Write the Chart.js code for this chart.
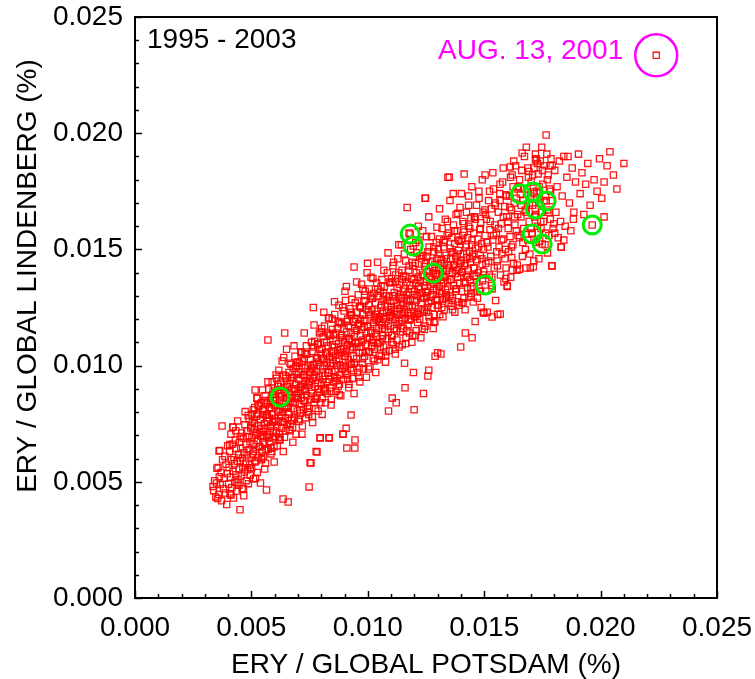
<!DOCTYPE html>
<html lang="en">
<head>
  <meta charset="UTF-8">
  <title>ERY Lindenberg vs Potsdam</title>
  <script src="https://cdn.jsdelivr.net/npm/chart.js@4.4.1/dist/chart.umd.min.js"></script>
  <style>
    html, body { margin: 0; padding: 0; background: #fff; }
    canvas { display: block; }
  </style>
</head>
<body>
  <canvas id="myChart" width="755" height="679"></canvas>
  <script>
    // daily ratios (%): [potsdam, lindenberg]
    const lowerCloud = [
      [0.00335,0.00480],[0.00338,0.00462],[0.00342,0.00505],[0.00347,0.00435],[0.00350,0.00495],[0.00352,0.00558],[0.00355,0.00428],[0.00357,0.00562],
      [0.00360,0.00445],[0.00362,0.00522],[0.00364,0.00635],[0.00366,0.00488],[0.00370,0.00540],[0.00372,0.00418],[0.00374,0.00740],[0.00376,0.00595],
      [0.00380,0.00470],[0.00383,0.00515],[0.00386,0.00610],[0.00388,0.00452],[0.00391,0.00576],[0.00394,0.00402],[0.00396,0.00535],[0.00398,0.00655],
      [0.00402,0.00490],[0.00404,0.00562],[0.00406,0.00630],[0.00408,0.00448],[0.00410,0.00520],[0.00412,0.00705],[0.00414,0.00595],[0.00416,0.00475],
      [0.00418,0.00662],[0.00420,0.00735],[0.00421,0.00545],[0.00423,0.00430],[0.00425,0.00605],[0.00427,0.00578],[0.00429,0.00498],[0.00431,0.00680],
      [0.00433,0.00530],[0.00435,0.00642],[0.00437,0.00460],[0.00439,0.00588],[0.00441,0.00762],[0.00443,0.00510],[0.00445,0.00618],[0.00446,0.00485],
      [0.00448,0.00555],[0.00449,0.00670],
      [0.00451,0.00380],[0.00452,0.00590],[0.00454,0.00645],[0.00456,0.00525],[0.00458,0.00710],[0.00460,0.00470],[0.00461,0.00602],[0.00463,0.00560],
      [0.00465,0.00688],[0.00467,0.00440],[0.00468,0.00625],[0.00470,0.00542],[0.00472,0.00745],[0.00473,0.00802],[0.00475,0.00580],[0.00477,0.00660],
      [0.00478,0.00505],[0.00480,0.00720],[0.00482,0.00615],[0.00484,0.00552],[0.00485,0.00695],[0.00487,0.00492],[0.00489,0.00638],[0.00490,0.00770],
      [0.00492,0.00572],[0.00494,0.00672],[0.00495,0.00528],[0.00497,0.00732],[0.00499,0.00605],
      [0.00501,0.00560],[0.00502,0.00690],[0.00504,0.00755],[0.00506,0.00620],[0.00508,0.00810],[0.00509,0.00512],[0.00511,0.00662],[0.00513,0.00725],
      [0.00515,0.00585],[0.00516,0.00895],[0.00518,0.00700],[0.00520,0.00640],[0.00522,0.00782],[0.00524,0.00860],[0.00525,0.00540],[0.00527,0.00678],
      [0.00529,0.00740],[0.00530,0.00605],[0.00532,0.00825],[0.00534,0.00712],[0.00536,0.00652],[0.00538,0.00768],[0.00539,0.00495],[0.00541,0.00695],
      [0.00543,0.00840],[0.00545,0.00730],[0.00546,0.00630],[0.00548,0.00790],[0.00549,0.00670],
      [0.00551,0.00715],[0.00552,0.00610],[0.00554,0.00805],[0.00556,0.00750],[0.00557,0.00662],[0.00559,0.00870],[0.00561,0.00580],[0.00562,0.00728],
      [0.00564,0.00788],[0.00565,0.00465],[0.00566,0.00695],[0.00568,0.00835],[0.00570,0.00760],[0.00571,0.01110],[0.00572,0.00640],[0.00574,0.00898],
      [0.00576,0.00705],[0.00577,0.00775],[0.00579,0.00672],[0.00581,0.00850],[0.00582,0.00738],[0.00584,0.00620],[0.00586,0.00815],[0.00587,0.00792],
      [0.00589,0.00930],[0.00590,0.00688],[0.00592,0.00755],[0.00594,0.00862],[0.00595,0.00720],[0.00597,0.00650],[0.00599,0.00828]
    ];
    const middleCloud = [
      [0.00601,0.00770],[0.00602,0.00882],[0.00604,0.00695],[0.00606,0.00830],[0.00608,0.00945],[0.00609,0.00740],[0.00611,0.00655],[0.00613,0.00805],
      [0.00614,0.00895],[0.00616,0.00762],[0.00618,0.00980],[0.00619,0.00710],[0.00621,0.00848],[0.00622,0.00680],[0.00624,0.00812],[0.00626,0.00925],
      [0.00627,0.00785],[0.00629,0.00730],[0.00631,0.00870],[0.00632,0.01020],[0.00634,0.00800],[0.00636,0.00426],[0.00637,0.00755],[0.00639,0.00905],
      [0.00640,0.00838],[0.00642,0.00692],[0.00643,0.01140],[0.00644,0.00885],[0.00646,0.00775],[0.00647,0.00955],[0.00649,0.00820],
      [0.00651,0.01070],[0.00652,0.00860],[0.00654,0.00745],[0.00656,0.00910],[0.00658,0.00413],[0.00659,0.00825],[0.00661,0.00970],[0.00662,0.00790],
      [0.00664,0.00878],[0.00666,0.00720],[0.00667,0.00935],[0.00669,0.00845],[0.00670,0.01005],[0.00672,0.00765],[0.00674,0.00900],[0.00675,0.00862],
      [0.00677,0.00735],[0.00679,0.00988],[0.00680,0.00815],[0.00682,0.00948],[0.00684,0.00890],[0.00685,0.00778],[0.00687,0.01040],[0.00688,0.00840],
      [0.00690,0.00920],[0.00692,0.00705],[0.00693,0.00870],[0.00695,0.00962],[0.00697,0.00805],[0.00699,0.01015],
      [0.00701,0.00880],[0.00703,0.00940],[0.00704,0.00760],[0.00706,0.01010],[0.00708,0.00835],[0.00709,0.00905],[0.00711,0.00795],[0.00713,0.00975],
      [0.00714,0.00862],[0.00716,0.01055],[0.00718,0.00920],[0.00719,0.00740],[0.00721,0.00895],[0.00723,0.00960],[0.00724,0.00810],[0.00726,0.01030],
      [0.00728,0.00900],[0.00729,0.00848],[0.00731,0.00990],[0.00733,0.00775],[0.00734,0.00935],[0.00736,0.01085],[0.00738,0.00870],[0.00739,0.00950],
      [0.00741,0.00825],[0.00743,0.01000],[0.00744,0.00915],[0.00746,0.00790],[0.00748,0.00478],[0.00749,0.00970],
      [0.00751,0.00930],[0.00752,0.00582],[0.00754,0.01025],[0.00756,0.00855],[0.00758,0.00985],[0.00759,0.00895],[0.00761,0.01060],[0.00762,0.00780],
      [0.00764,0.00945],[0.00766,0.01250],[0.00767,0.01005],[0.00769,0.00840],[0.00771,0.00960],[0.00772,0.01105],[0.00774,0.00910],[0.00776,0.00815],
      [0.00778,0.00630],[0.00779,0.01035],[0.00781,0.00975],[0.00782,0.00870],[0.00784,0.01090],[0.00786,0.00925],[0.00787,0.00805],[0.00789,0.01015],
      [0.00791,0.00955],[0.00792,0.01140],[0.00794,0.00885],[0.00795,0.00690],[0.00797,0.00995],[0.00799,0.01050],
      [0.00801,0.00920],[0.00803,0.01070],[0.00804,0.00860],[0.00806,0.00985],[0.00808,0.01125],[0.00809,0.01030],[0.00811,0.00895],[0.00813,0.01000],
      [0.00814,0.01170],[0.00816,0.00955],[0.00818,0.00840],[0.00819,0.01055],[0.00821,0.00930],[0.00823,0.01100],[0.00824,0.01015],[0.00826,0.00880],
      [0.00828,0.00970],[0.00829,0.01085],[0.00831,0.01205],[0.00833,0.00940],[0.00834,0.00690],[0.00836,0.01040],[0.00838,0.00905],[0.00839,0.01130],
      [0.00841,0.01000],[0.00843,0.00855],[0.00844,0.01060],[0.00846,0.00980],[0.00848,0.01155],[0.00849,0.01025],
      [0.00851,0.01010],[0.00852,0.01135],[0.00854,0.00930],[0.00856,0.01080],[0.00858,0.01220],[0.00859,0.00975],[0.00861,0.01045],[0.00863,0.00890],
      [0.00864,0.01105],[0.00866,0.01020],[0.00868,0.00945],[0.00869,0.01160],[0.00871,0.01065],[0.00873,0.00910],[0.00874,0.01095],[0.00876,0.01260],
      [0.00878,0.01030],[0.00879,0.00960],[0.00881,0.01120],[0.00883,0.01000],[0.00884,0.00870],[0.00886,0.01180],[0.00888,0.01055],[0.00889,0.00985],
      [0.00891,0.01110],[0.00893,0.00705],[0.00894,0.01075],[0.00896,0.00940],[0.00898,0.01235],[0.00899,0.01040],
      [0.00901,0.01100],[0.00903,0.00995],[0.00904,0.01280],[0.00906,0.01060],[0.00907,0.00730],[0.00908,0.01340],[0.00909,0.01145],[0.00911,0.00960],
      [0.00913,0.01090],[0.00914,0.01200],[0.00916,0.01025],[0.00918,0.01170],[0.00919,0.00920],[0.00921,0.01115],[0.00923,0.01245],[0.00924,0.01070],
      [0.00926,0.00990],[0.00928,0.01140],[0.00929,0.01005],[0.00931,0.01215],[0.00933,0.01105],[0.00934,0.00945],[0.00936,0.01080],[0.00938,0.01190],
      [0.00939,0.01040],[0.00941,0.00880],[0.00943,0.01125],[0.00944,0.00645],[0.00945,0.00680],[0.00946,0.01270],[0.00948,0.01095],
      [0.00951,0.01150],[0.00952,0.01030],[0.00954,0.01230],[0.00956,0.00970],[0.00958,0.01100],[0.00959,0.01305],[0.00961,0.01180],[0.00963,0.01055],
      [0.00964,0.01255],[0.00966,0.00930],[0.00968,0.01130],[0.00969,0.01200],[0.00971,0.01080],[0.00973,0.01350],[0.00974,0.01155],[0.00976,0.01010],
      [0.00978,0.01220],[0.00979,0.01110],[0.00981,0.00985],[0.00983,0.01275],[0.00984,0.01165],[0.00986,0.01040],[0.00988,0.01195],[0.00989,0.01320],
      [0.00991,0.01090],[0.00993,0.01140],[0.00994,0.00950],[0.00996,0.01240],[0.00998,0.01120],[0.00999,0.01440],
      [0.01001,0.01170],[0.01003,0.01060],[0.01004,0.01260],[0.01006,0.01330],[0.01008,0.01120],[0.01009,0.00995],[0.01011,0.01220],[0.01013,0.01150],
      [0.01014,0.01380],[0.01016,0.01085],[0.01018,0.01240],[0.01019,0.01100],[0.01021,0.01290],[0.01023,0.01030],[0.01024,0.01185],[0.01026,0.01310],
      [0.01028,0.01205],[0.01029,0.01070],[0.01031,0.01140],[0.01033,0.01270],[0.01034,0.00970],[0.01036,0.01195],[0.01038,0.01355],[0.01039,0.01125],
      [0.01041,0.01235],[0.01043,0.01095],[0.01044,0.01200],[0.01046,0.01300],[0.01048,0.01160],[0.01049,0.01045],
      [0.01051,0.01210],[0.01052,0.01100],[0.01054,0.01320],[0.01056,0.01250],[0.01058,0.01040],[0.01059,0.01175],[0.01061,0.01370],[0.01063,0.01225],
      [0.01064,0.01130],[0.01066,0.01285],[0.01068,0.01080],[0.01069,0.01200],[0.01071,0.01340],[0.01073,0.01155],[0.01074,0.01265],[0.01076,0.01015],
      [0.01078,0.01190],[0.01079,0.01300],[0.01081,0.01230],[0.01083,0.01115],[0.01084,0.01400],[0.01086,0.01255],[0.01088,0.01145],[0.01089,0.00805],
      [0.01091,0.01295],[0.01093,0.01065],[0.01094,0.01215],[0.01096,0.01355],[0.01098,0.01170],[0.01099,0.01240],
      [0.01101,0.01250],[0.01103,0.01130],[0.01104,0.01360],[0.01106,0.01210],[0.01108,0.01430],[0.01109,0.01090],[0.01111,0.01280],[0.01113,0.01160],
      [0.01114,0.01315],[0.01116,0.01235],[0.01118,0.01050],[0.01119,0.01390],[0.01121,0.01200],[0.01122,0.00840],[0.01123,0.01270],[0.01125,0.01110],
      [0.01126,0.01335],[0.01128,0.01220],[0.01129,0.01460],[0.01131,0.01180],[0.01133,0.01295],[0.01134,0.01080],[0.01136,0.01350],[0.01138,0.01245],
      [0.01139,0.01145],[0.01141,0.01305],[0.01143,0.01260],[0.01144,0.01520],[0.01146,0.01195],[0.01148,0.01370],[0.01149,0.01225],
      [0.01151,0.01290],[0.01153,0.01160],[0.01154,0.01385],[0.01156,0.01240],[0.01158,0.01010],[0.01159,0.01330],[0.01161,0.01205],[0.01163,0.01450],
      [0.01164,0.01120],[0.01166,0.01275],[0.01168,0.01360],[0.01169,0.01680],[0.01171,0.01225],[0.01173,0.01175],[0.01174,0.01315],[0.01176,0.01410],
      [0.01178,0.01260],[0.01179,0.01140],[0.01181,0.01345],[0.01183,0.01285],[0.01184,0.01500],[0.01186,0.01215],[0.01188,0.01375],[0.01189,0.01100],
      [0.01191,0.01250],[0.01193,0.01430],[0.01194,0.01305],[0.01196,0.00970],[0.01198,0.01230],[0.01199,0.00810]
    ];
    const upperCloud = [
      [0.01201,0.01320],[0.01203,0.01210],[0.01204,0.01440],[0.01206,0.01355],[0.01208,0.01150],[0.01209,0.01280],[0.01211,0.01485],[0.01213,0.01300],
      [0.01214,0.01185],[0.01216,0.01380],[0.01218,0.01245],[0.01219,0.01540],[0.01221,0.01330],[0.01223,0.01200],[0.01224,0.01410],[0.01226,0.01365],
      [0.01228,0.01120],[0.01229,0.01270],[0.01231,0.01460],[0.01233,0.01310],[0.01234,0.01235],[0.01236,0.01580],[0.01238,0.01390],[0.01239,0.00880],
      [0.01241,0.01290],[0.01243,0.01425],[0.01244,0.01345],[0.01246,0.01170],[0.01248,0.01720],[0.01249,0.01315],
      [0.01251,0.01360],[0.01253,0.01230],[0.01254,0.01470],[0.01256,0.01320],[0.01258,0.00955],[0.01259,0.01405],[0.01261,0.01270],[0.01263,0.01510],
      [0.01264,0.01385],[0.01266,0.01190],[0.01268,0.01340],[0.01269,0.01445],[0.01271,0.01295],[0.01273,0.01555],[0.01274,0.01370],[0.01276,0.01250],
      [0.01278,0.01420],[0.01279,0.01305],[0.01281,0.01160],[0.01283,0.01490],[0.01284,0.01350],[0.01286,0.01220],[0.01288,0.01435],[0.01289,0.01040],
      [0.01291,0.01395],[0.01293,0.01285],[0.01294,0.01530],[0.01296,0.01325],[0.01298,0.01460],[0.01299,0.01260],
      [0.01301,0.01390],[0.01303,0.01260],[0.01304,0.01480],[0.01306,0.01340],[0.01308,0.01545],[0.01309,0.01220],[0.01311,0.01420],[0.01313,0.01370],
      [0.01314,0.01050],[0.01316,0.01455],[0.01318,0.01310],[0.01319,0.01590],[0.01321,0.01285],[0.01323,0.01405],[0.01324,0.01355],[0.01326,0.01510],
      [0.01328,0.01240],[0.01329,0.01440],[0.01331,0.01380],[0.01333,0.01630],[0.01334,0.01325],[0.01336,0.01475],[0.01338,0.01295],[0.01339,0.01410],
      [0.01341,0.01560],[0.01343,0.01360],[0.01344,0.01810],[0.01346,0.01430],[0.01348,0.01270],
      [0.01351,0.01420],[0.01353,0.01300],[0.01354,0.01505],[0.01356,0.01460],[0.01358,0.01255],[0.01359,0.01370],[0.01361,0.01550],[0.01363,0.01400],
      [0.01364,0.01290],[0.01366,0.01485],[0.01368,0.01605],[0.01369,0.01345],[0.01371,0.01435],[0.01373,0.01525],[0.01374,0.01230],[0.01376,0.01395],
      [0.01378,0.01470],[0.01379,0.01650],[0.01381,0.01330],[0.01383,0.01450],[0.01384,0.01580],[0.01386,0.01380],[0.01388,0.01275],[0.01389,0.01495],
      [0.01391,0.01415],[0.01393,0.01535],[0.01394,0.01355],[0.01396,0.01680],[0.01398,0.01440],[0.01399,0.01080],
      [0.01401,0.01450],[0.01403,0.01320],[0.01404,0.01540],[0.01406,0.01405],[0.01408,0.01620],[0.01409,0.01270],[0.01411,0.01480],[0.01413,0.01360],
      [0.01414,0.01575],[0.01416,0.01430],[0.01418,0.01240],[0.01419,0.01140],[0.01421,0.01510],[0.01423,0.01390],[0.01424,0.01660],[0.01426,0.01465],
      [0.01428,0.01335],[0.01429,0.01550],[0.01431,0.01410],[0.01433,0.01730],[0.01434,0.01295],[0.01436,0.01490],[0.01438,0.01590],[0.01439,0.01370],
      [0.01441,0.01445],[0.01443,0.01635],[0.01444,0.01310],[0.01446,0.01520],[0.01448,0.01120],[0.01449,0.01470],
      [0.01451,0.01480],[0.01453,0.01340],[0.01455,0.01570],[0.01457,0.01420],[0.01459,0.01640],[0.01461,0.01190],[0.01463,0.01505],[0.01465,0.01385],
      [0.01467,0.01690],[0.01469,0.01455],[0.01471,0.01290],[0.01473,0.01545],[0.01475,0.01400],[0.01477,0.01750],[0.01479,0.01320],[0.01481,0.01585],
      [0.01483,0.01475],[0.01485,0.01615],[0.01487,0.01250],[0.01489,0.01525],[0.01491,0.01435],[0.01493,0.01365],[0.01495,0.01660],[0.01497,0.01500],
      [0.01499,0.01225],
      [0.01504,0.01560],[0.01507,0.01440],[0.01510,0.01630],[0.01513,0.01230],[0.01516,0.01510],[0.01519,0.01710],[0.01522,0.01390],[0.01525,0.01585],
      [0.01528,0.01470],[0.01531,0.01675],[0.01534,0.01330],[0.01537,0.01540],[0.01540,0.01760],[0.01543,0.01420],[0.01546,0.01605],[0.01549,0.01280],
      [0.01552,0.01570],[0.01555,0.01450],[0.01558,0.01220],[0.01561,0.01660],[0.01564,0.01510],[0.01567,0.01740],[0.01570,0.01390],[0.01573,0.01610],
      [0.01576,0.01480],[0.01579,0.01790],[0.01582,0.01545],[0.01585,0.01360],[0.01588,0.01685],[0.01591,0.01500],[0.01594,0.01420],[0.01597,0.01640],
      [0.01599,0.01340]
    ];
    const topCloud = [
      [0.01602,0.01620],[0.01605,0.01490],[0.01608,0.01730],[0.01611,0.01555],[0.01614,0.01380],[0.01617,0.01670],[0.01620,0.01820],[0.01623,0.01520],
      [0.01626,0.01440],[0.01629,0.01700],[0.01632,0.01605],[0.01635,0.01860],[0.01638,0.01580],[0.01641,0.01410],[0.01644,0.01650],[0.01647,0.01770],
      [0.01652,0.01550],[0.01658,0.01640],[0.01661,0.01840],[0.01664,0.01470],[0.01667,0.01710],[0.01670,0.01590],[0.01673,0.01900],[0.01676,0.01670],
      [0.01679,0.01420],[0.01681,0.01940],[0.01684,0.01760],[0.01687,0.01540],[0.01690,0.01810],[0.01693,0.01620],[0.01696,0.01480],[0.01699,0.01730],
      [0.01702,0.01790],[0.01705,0.01570],[0.01708,0.01690],[0.01711,0.01425],[0.01714,0.01850],[0.01717,0.01640],[0.01720,0.01910],[0.01723,0.01530],
      [0.01726,0.01750],[0.01729,0.01600],[0.01732,0.01825],[0.01735,0.01460],[0.01738,0.01700],[0.01741,0.01880],[0.01744,0.01590],[0.01747,0.01660],
      [0.01752,0.01780],[0.01755,0.01620],[0.01758,0.01860],[0.01761,0.01520],[0.01764,0.01730],[0.01766,0.01992],[0.01769,0.01910],[0.01772,0.01670],
      [0.01775,0.01820],[0.01778,0.01560],[0.01781,0.01760],[0.01784,0.01630],[0.01787,0.01890],[0.01790,0.01430],[0.01793,0.01710],[0.01796,0.01590],
      [0.01803,0.01840],[0.01808,0.01660],[0.01813,0.01770],[0.01818,0.01550],[0.01823,0.01880],[0.01828,0.01620],[0.01830,0.01510],[0.01835,0.01730],
      [0.01842,0.01900],[0.01848,0.01600],[0.01855,0.01810],[0.01860,0.01900],[0.01866,0.01700],[0.01872,0.01580],[0.01878,0.01850],[0.01885,0.01660],
      [0.01892,0.01790],
      [0.01905,0.01910],[0.01912,0.01740],[0.01920,0.01830],[0.01928,0.01650],[0.01936,0.01780],[0.01945,0.01870],[0.01955,0.01690],[0.01972,0.01800],
      [0.01985,0.01750],[0.01995,0.01890],
      [0.02005,0.01720],[0.02015,0.01790],[0.02015,0.01640],[0.02028,0.01860],[0.02040,0.01920],[0.02055,0.01820],[0.02070,0.01760],[0.02100,0.01870]
    ];
    // more days packed into the dense core of the cloud
    const coreCloud = [
      [0.00503,0.00790],[0.00508,0.00630],[0.00513,0.00750],[0.00519,0.00590],[0.00524,0.00710],[0.00528,0.00830],[0.00533,0.00650],[0.00539,0.00770],
      [0.00544,0.00600],[0.00549,0.00810],[0.00553,0.00700],[0.00558,0.00850],[0.00563,0.00640],[0.00568,0.00790],[0.00573,0.00690],[0.00578,0.00820],
      [0.00583,0.00740],[0.00588,0.00630],[0.00593,0.00890],[0.00598,0.00760],[0.00603,0.00850],[0.00608,0.00710],[0.00613,0.00920],[0.00618,0.00800],
      [0.00623,0.00690],[0.00628,0.00880],[0.00633,0.00760],[0.00638,0.00960],[0.00643,0.00820],[0.00648,0.00720],[0.00653,0.00920],[0.00658,0.00800],
      [0.00663,0.00860],[0.00668,0.00750],[0.00673,0.00950],[0.00678,0.00840],[0.00683,0.00770],[0.00688,0.00900],[0.00693,0.01000],[0.00698,0.00860],
      [0.00703,0.00970],[0.00708,0.00810],[0.00713,0.00910],[0.00718,0.01020],[0.00723,0.00850],[0.00728,0.00960],[0.00733,0.00890],[0.00738,0.01050],
      [0.00743,0.00800],[0.00748,0.00930],[0.00753,0.01000],[0.00758,0.00880],[0.00763,0.00990],[0.00768,0.01080],[0.00773,0.00860],[0.00778,0.00950],
      [0.00783,0.01030],[0.00788,0.00900],[0.00793,0.01070],[0.00798,0.00840],[0.00803,0.01030],[0.00808,0.00940],[0.00813,0.01100],[0.00818,0.00900],
      [0.00823,0.01050],[0.00828,0.01140],[0.00833,0.00970],[0.00838,0.01010],[0.00843,0.00890],[0.00848,0.01090],[0.00853,0.01060],[0.00858,0.00950],
      [0.00863,0.01140],[0.00868,0.01000],[0.00873,0.01190],[0.00878,0.00920],[0.00883,0.01070],[0.00888,0.01130],[0.00893,0.00990],[0.00898,0.01160],
      [0.00903,0.01040],[0.00908,0.01190],[0.00913,0.00940],[0.00918,0.01110],[0.00923,0.01010],[0.00928,0.01230],[0.00933,0.01070],[0.00938,0.00980],
      [0.00943,0.01160],[0.00948,0.01200],[0.00953,0.01080],[0.00958,0.01170],[0.00963,0.00990],[0.00968,0.01250],[0.00973,0.01100],[0.00978,0.01030],
      [0.00983,0.01190],[0.00988,0.01280],[0.00993,0.01060],[0.00998,0.01170],[0.01003,0.01230],[0.01008,0.01060],[0.01013,0.01140],[0.01018,0.01290],
      [0.01023,0.01110],[0.01028,0.01020],[0.01033,0.01220],[0.01038,0.01160],[0.01043,0.01330],[0.01048,0.01190],[0.01053,0.01080],[0.01058,0.01260],
      [0.01063,0.01160],[0.01068,0.01310],[0.01073,0.01210],[0.01078,0.01060],[0.01083,0.01280],[0.01088,0.01180],[0.01093,0.01360],[0.01098,0.01230],
      [0.01103,0.01100],[0.01108,0.01300],[0.01113,0.01220],[0.01118,0.01360],[0.01123,0.01150],[0.01128,0.01260],[0.01133,0.01400],[0.01138,0.01190],
      [0.01143,0.01290],[0.01148,0.01090],[0.01153,0.01320],[0.01158,0.01230],[0.01163,0.01380],[0.01168,0.01150],[0.01173,0.01280],[0.01178,0.01430],
      [0.01183,0.01200],[0.01188,0.01330],[0.01193,0.01130],[0.01198,0.01370],[0.01203,0.01260],[0.01208,0.01400],[0.01213,0.01220],[0.01218,0.01340],
      [0.01223,0.01470],[0.01228,0.01290],[0.01233,0.01160],[0.01238,0.01360],[0.01243,0.01240],[0.01248,0.01440],[0.01253,0.01300],[0.01258,0.01490],
      [0.01263,0.01210],[0.01268,0.01380],[0.01273,0.01280],[0.01278,0.01450],[0.01283,0.01330],[0.01288,0.01190],[0.01293,0.01410],[0.01298,0.01360],
      [0.01303,0.01500],[0.01308,0.01320],[0.01313,0.01440],[0.01318,0.01250],[0.01323,0.01390],[0.01328,0.01530],[0.01333,0.01290],[0.01338,0.01460],
      [0.01343,0.01340],[0.01348,0.01570],[0.01353,0.01370],[0.01358,0.01490],[0.01363,0.01280],[0.01368,0.01430],[0.01373,0.01580],[0.01378,0.01320],
      [0.01383,0.01410],[0.01388,0.01540],[0.01393,0.01260],[0.01398,0.01480],[0.01403,0.01400],[0.01408,0.01560],[0.01413,0.01290],[0.01418,0.01440],
      [0.01423,0.01520],[0.01428,0.01380],[0.01433,0.01600],[0.01438,0.01460],[0.01443,0.01330],[0.01448,0.01540],[0.01455,0.01420],[0.01462,0.01630],
      [0.01469,0.01360],[0.01476,0.01510],[0.01483,0.01590],[0.01490,0.01460],[0.01497,0.01390],[0.01505,0.01650],[0.01512,0.01530],[0.01519,0.01450],
      [0.01526,0.01620],[0.01533,0.01380],[0.01540,0.01560],[0.01547,0.01690],[0.01554,0.01490],[0.01561,0.01590],[0.01568,0.01710],[0.01575,0.01540],
      [0.01582,0.01640],[0.01589,0.01460],[0.01596,0.01730],[0.01603,0.01590],[0.01610,0.01680],[0.01617,0.01510],[0.01624,0.01770],[0.01631,0.01640],
      [0.01638,0.01720],[0.01645,0.01560],[0.01652,0.01800],[0.01659,0.01690],[0.01666,0.01530],[0.01673,0.01760],[0.01680,0.01660],[0.01687,0.01850],
      [0.01694,0.01700],[0.01701,0.01590],[0.01708,0.01820],[0.01715,0.01740],[0.01722,0.01650],[0.01729,0.01870],[0.01736,0.01770],[0.01743,0.01620],
      [0.01750,0.01840],[0.01757,0.01710],[0.01764,0.01570],[0.01771,0.01800],[0.01778,0.01660],[0.01785,0.01750],[0.01792,0.01860],[0.01799,0.01610]
    ];
    // scattered days along the upper and lower edges of the cloud
    const edgeCloud = [
      [0.00407,0.00660],[0.00433,0.00720],[0.00452,0.00695],[0.00486,0.00785],[0.00498,0.00740],[0.00514,0.00820],[0.00527,0.00790],[0.00548,0.00895],
      [0.00563,0.00840],[0.00571,0.00930],[0.00592,0.00875],[0.00606,0.00960],[0.00617,0.00910],[0.00639,0.01035],[0.00648,0.00945],[0.00666,0.01010],
      [0.00683,0.01085],[0.00691,0.00995],[0.00712,0.01060],[0.00727,0.01140],[0.00736,0.01050],[0.00758,0.01100],[0.00769,0.01175],[0.00788,0.01095],
      [0.00802,0.01160],[0.00811,0.01230],[0.00833,0.01135],[0.00847,0.01200],[0.00857,0.01275],[0.00878,0.01185],[0.00892,0.01250],[0.00902,0.01320],
      [0.00924,0.01220],[0.00931,0.01285],[0.00952,0.01360],[0.00968,0.01255],[0.00979,0.01330],[0.00997,0.01400],[0.01012,0.01300],[0.01022,0.01375],
      [0.01042,0.01445],[0.01057,0.01340],[0.01069,0.01410],[0.01087,0.01485],[0.01102,0.01375],[0.01111,0.01445],[0.01133,0.01520],[0.01147,0.01410],
      [0.01157,0.01480],[0.01177,0.01570],[0.01192,0.01445],[0.01206,0.01530],[0.01217,0.01600],[0.01237,0.01475],[0.01252,0.01555],[0.01262,0.01640],
      [0.01283,0.01510],[0.01297,0.01595],[0.01308,0.01675],[0.01327,0.01540],[0.01342,0.01620],[0.01353,0.01710],[0.01372,0.01580],[0.01387,0.01655],
      [0.01402,0.01740],[0.01413,0.01610],[0.01433,0.01690],[0.01447,0.01770],[0.01458,0.01640],[0.01478,0.01720],[0.01492,0.01800],[0.01503,0.01670],
      [0.01523,0.01750],[0.01537,0.01830],[0.01548,0.01700],[0.01568,0.01780],[0.01582,0.01850],[0.01593,0.01735],[0.01613,0.01810],[0.01627,0.01880],
      [0.01642,0.01760],[0.01663,0.01915],[0.01692,0.01835],[0.01724,0.01890],[0.01747,0.01940],[0.01783,0.01860],
      [0.00412,0.00442],[0.00438,0.00495],[0.00466,0.00470],[0.00496,0.00560],[0.00518,0.00515],[0.00543,0.00595],[0.00557,0.00555],[0.00583,0.00645],
      [0.00598,0.00585],[0.00622,0.00680],[0.00637,0.00630],[0.00662,0.00725],[0.00678,0.00670],[0.00703,0.00770],[0.00717,0.00705],[0.00742,0.00815],
      [0.00763,0.00755],[0.00777,0.00855],[0.00804,0.00790],[0.00818,0.00890],[0.00842,0.00830],[0.00863,0.00935],[0.00877,0.00875],[0.00903,0.00975],
      [0.00918,0.00905],[0.00942,0.01010],[0.00962,0.00950],[0.00977,0.01055],[0.01003,0.00985],[0.01017,0.01080],[0.01043,0.01025],[0.01062,0.01115],
      [0.01077,0.01045],[0.01103,0.01130],[0.01117,0.01070],[0.01142,0.01160],[0.01163,0.01095],[0.01177,0.01195],[0.01204,0.01130],[0.01218,0.01225],
      [0.01243,0.01155],[0.01257,0.01250],[0.01284,0.01185],[0.01298,0.01280],[0.01323,0.01210],[0.01337,0.01305],[0.01364,0.01240],[0.01378,0.01330],
      [0.01404,0.01270],[0.01418,0.01355],[0.01443,0.01295],[0.01457,0.01385],[0.01484,0.01320],[0.01498,0.01405],[0.01532,0.01345],[0.01557,0.01430],
      [0.01593,0.01375],[0.01618,0.01465],[0.01652,0.01415],[0.01677,0.01500],[0.01713,0.01450],[0.01738,0.01535],[0.01772,0.01485],[0.01803,0.01570],
      [0.01842,0.01540],[0.01883,0.01630]
    ];
    // stray days well off the main band
    const strayDays = [
      [0.00799,0.01145],[0.00730,0.01050],[0.00834,0.01205],[0.00941,0.01424],[0.00421,0.00736],[0.00361,0.00633],[0.00524,0.00860],
      [0.00910,0.00645],[0.00894,0.00706],[0.00834,0.00688],[0.00795,0.00688],[0.00756,0.00581],[0.00782,0.00628],[0.00928,0.00787],
      [0.01599,0.01343],[0.01569,0.01222],[0.01534,0.01209],[0.01496,0.01230],[0.01453,0.01274],[0.01698,0.01420],[0.01792,0.01429],
      [0.01831,0.01510],[0.01642,0.01433],[0.01620,0.01410],[0.01350,0.01810],[0.01414,0.01824],[0.01246,0.01720],[0.01367,0.01740],
      [0.01504,0.01820],[0.01612,0.01855],[0.01720,0.01885],[0.01105,0.00860],[0.01160,0.00905],[0.01262,0.00980],[0.01300,0.01055]
    ];
    // days picked out with green circles
    const markedDays = [
      [0.01655,0.01738],[0.01710,0.01747],[0.01766,0.01708],[0.01719,0.01674],[0.01706,0.01566],[0.01749,0.01523],
      [0.01964,0.01605],[0.01182,0.01566],[0.01195,0.01515],[0.01281,0.01398],[0.01504,0.01347],[0.00623,0.00865]
    ];
    // AUG. 13, 2001
    const aug13 = [[0.02239,0.02335]];

    const xTickMin = 0, xTickMax = 0.025, yTickMin = 0, yTickMax = 0.025, tickStep = 0.001;
    const xTitle = 'ERY / GLOBAL POTSDAM (%)';
    const yTitle = 'ERY / GLOBAL LINDENBERG (%)';
    const periodLabel = '1995 - 2003';
    const eventLabel = 'AUG. 13, 2001';

    const toXY = arr => arr.map(p => ({ x: p[0], y: p[1] }));
    const allDays = [].concat(lowerCloud, middleCloud, upperCloud, topCloud, coreCloud, edgeCloud, strayDays, markedDays, aug13);

    const FONT = "'Liberation Sans', Arial, Helvetica, sans-serif";
    Chart.defaults.font.family = FONT;
    Chart.defaults.color = '#000';

    function isMajor(v) {
      return Math.round(v * 1000) % 5 === 0;
    }

    // frame, inward ticks and the free texts
    const decorations = {
      id: 'decorations',
      afterDraw(chart) {
        const { ctx, chartArea: a, scales: { x, y } } = chart;
        ctx.save();
        ctx.strokeStyle = '#000';
        ctx.lineWidth = 1.5;
        x.ticks.forEach(t => {
          const px = Math.round(x.getPixelForValue(t.value)) + 0.5;
          const len = isMajor(t.value) ? 7 : 4;
          ctx.beginPath(); ctx.moveTo(px, a.bottom); ctx.lineTo(px, a.bottom - len); ctx.stroke();
        });
        y.ticks.forEach(t => {
          const py = Math.round(y.getPixelForValue(t.value)) + 0.5;
          const len = isMajor(t.value) ? 7 : 4;
          ctx.beginPath(); ctx.moveTo(a.left, py); ctx.lineTo(a.left + len, py); ctx.stroke();
        });
        ctx.lineWidth = 2;
        ctx.strokeRect(a.left, a.top, a.right - a.left, a.bottom - a.top);

        ctx.fillStyle = '#000';
        ctx.font = '28px ' + FONT;
        ctx.textBaseline = 'alphabetic';
        ctx.textAlign = 'center';
        ctx.fillText(xTitle, (a.left + a.right) / 2, a.bottom + 75);

        ctx.save();
        ctx.translate(36, a.top + 259);
        ctx.rotate(-Math.PI / 2);
        ctx.fillText(yTitle, 0, 0);
        ctx.restore();

        ctx.textAlign = 'left';
        ctx.fillText(periodLabel, a.left + 12, a.top + 31);

        const ex = x.getPixelForValue(aug13[0][0]);
        const ey = y.getPixelForValue(aug13[0][1]);
        ctx.fillStyle = '#ff00ff';
        ctx.textAlign = 'right';
        ctx.fillText(eventLabel, ex - 33, ey + 4);
        ctx.restore();
      }
    };

    const ctx = document.getElementById('myChart').getContext('2d');
    const myChart = new Chart(ctx, {
      type: 'scatter',
      data: {
        datasets: [
          {
            label: 'Aug. 13, 2001',
            data: toXY(aug13),
            pointStyle: 'circle',
            radius: 21,
            borderWidth: 2.5,
            borderColor: '#ff00ff',
            backgroundColor: 'rgba(0,0,0,0)'
          },
          {
            label: 'Marked days',
            data: toXY(markedDays),
            pointStyle: 'circle',
            radius: 9,
            borderWidth: 3,
            borderColor: 'rgb(0,238,0)',
            backgroundColor: 'rgba(0,0,0,0)'
          },
          {
            label: 'Daily ratio',
            data: toXY(allDays),
            pointStyle: 'rect',
            radius: 4.4,
            borderWidth: 1.3,
            borderColor: 'rgba(255,0,0,0.9)',
            backgroundColor: 'rgba(0,0,0,0)'
          }
        ]
      },
      options: {
        responsive: false,
        animation: false,
        events: [],
        layout: { autoPadding: false, padding: { top: 17, right: 38, left: 0, bottom: 0 } },
        plugins: { legend: { display: false }, tooltip: { enabled: false } },
        scales: {
          x: {
            type: 'linear',
            min: xTickMin,
            max: xTickMax,
            afterFit: s => { s.height = 81; s.paddingLeft = 0; s.paddingRight = 0; },
            grid: { display: false, drawTicks: false },
            border: { display: false },
            ticks: {
              stepSize: tickStep,
              autoSkip: false,
              maxRotation: 0,
              padding: 13,
              font: { size: 28 },
              callback: v => isMajor(v) ? (Math.round(v * 1000) / 1000).toFixed(3) : ''
            }
          },
          y: {
            type: 'linear',
            min: yTickMin,
            max: yTickMax,
            afterFit: s => { s.width = 135; s.paddingTop = 0; s.paddingBottom = 0; },
            grid: { display: false, drawTicks: false },
            border: { display: false },
            ticks: {
              stepSize: tickStep,
              autoSkip: false,
              padding: 12,
              font: { size: 28 },
              callback: v => isMajor(v) ? (Math.round(v * 1000) / 1000).toFixed(3) : ''
            }
          }
        }
      },
      plugins: [decorations]
    });
  </script>
</body>
</html>
